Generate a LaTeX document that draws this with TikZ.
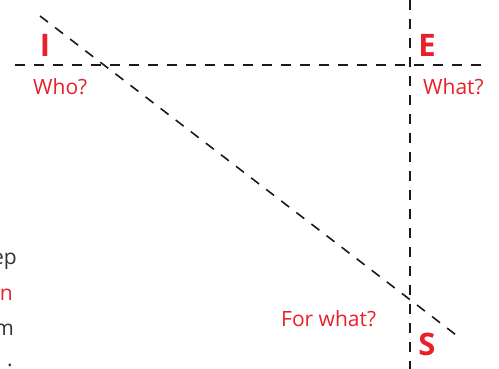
\documentclass[tikz,border=0pt]{standalone}
\usepackage{fontspec}
\setmainfont{Open Sans}
\usetikzlibrary{positioning}
\definecolor{IesRed}{HTML}{E8202A}
\definecolor{IesInk}{HTML}{1A1A1A}
\definecolor{IesText}{HTML}{333333}

\begin{document}
\begin{tikzpicture}[x=1pt,y=-1pt,
  axis/.style={draw=IesInk, line width=1.6pt, dash pattern=on 10pt off 9pt},
  letter/.style={text=IesRed, font=\fontsize{31}{33}\selectfont\bfseries, inner sep=0pt},
  question/.style={text=IesRed, font=\fontsize{21}{23}\selectfont, inner sep=0pt, anchor=base west},
  edgetext/.style={font=\fontsize{21}{23}\selectfont, inner sep=0pt, anchor=base east}
]
  \useasboundingbox (0,0) rectangle (499,369);

  % the three axes
  \coordinate (hleft) at (15,65);
  \coordinate (hright) at (482,65);
  \coordinate (vtop) at (410,0);
  \coordinate (vbottom) at (410,369);
  \coordinate (dtop) at (40,16);
  \coordinate (dbottom) at (460,338);
  \draw[axis] (hleft) -- (hright);
  \draw[axis] (vtop) -- (vbottom);
  \draw[axis] (dtop) -- (dbottom);

  % letters
  \node[letter] (who) at (45,45) {I};
  \node[letter] (what) at (427,45) {E};
  \node[letter] (forwhat) at (427,344) {S};

  % questions
  \node[question] (qwho) at (33,95) {Who?};
  \node[question] (qwhat) at (423,95) {What?};
  \node[question] (qforwhat) at (281,326) {For what?};

  % fragments of the text beside it
  \node[edgetext, text=IesText] (fragA) at (17,265) {ep};
  \node[edgetext, text=IesRed] (fragB) at (13,300) {n};
  \node[edgetext, text=IesText] (fragC) at (14,335) {m};
  \node[edgetext, text=IesText] (fragD) at (13,366) {.};
\end{tikzpicture}
\end{document}
